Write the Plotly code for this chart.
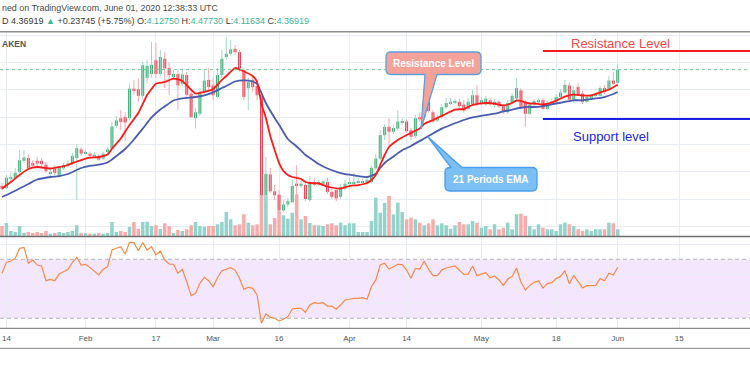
import plotly.graph_objects as go
import pandas as pd

# ---------------- data (LINK/USD daily, Kraken) ----------------
dates = pd.date_range("2020-01-13", "2020-06-01", freq="D")

opens = [2.24, 2.20, 2.37, 2.39, 2.49, 2.70, 2.75, 2.66, 2.70, 2.70,
         2.63, 2.46, 2.56, 2.42, 2.56, 2.60, 2.66, 2.75, 2.91, 2.84,
         2.83, 2.77, 2.79, 2.74, 2.86, 2.92, 3.34, 3.48, 3.50, 3.48,
         4.02, 4.01, 3.89, 4.22, 4.29, 4.54, 4.29, 4.57, 4.40, 4.23,
         4.29, 4.11, 4.27, 3.93, 3.48, 3.56, 3.96, 4.18, 4.08, 3.87,
         4.27, 4.60, 4.66, 4.75, 4.69, 4.36, 4.03, 4.18, 4.07, 3.90,
         2.07, 2.45, 2.14, 2.08, 1.79, 1.90, 1.94, 2.28, 2.25, 2.26,
         1.98, 2.31, 2.28, 2.29, 2.31, 2.13, 2.17, 2.04, 2.19, 2.28,
         2.29, 2.30, 2.30, 2.28, 2.31, 2.56, 2.74, 3.17, 3.32, 3.23,
         3.29, 3.40, 3.42, 3.26, 3.15, 3.50, 3.50, 3.78, 3.59, 3.44,
         3.50, 3.68, 3.75, 3.77, 3.78, 3.73, 3.65, 3.74, 3.90, 3.76,
         3.73, 3.81, 3.72, 3.78, 3.70, 3.59, 3.76, 3.84, 3.99, 3.78,
         3.56, 3.73, 3.77, 3.81, 3.65, 3.75, 3.78, 3.87, 3.95, 4.08,
         3.81, 4.05, 3.93, 3.78, 3.86, 3.89, 3.89, 4.03, 4.02, 4.17,
         4.1275]
highs = [2.29, 2.44, 2.49, 2.57, 2.90, 2.90, 2.81, 2.71, 2.77, 2.75,
         2.68, 2.57, 2.62, 2.60, 2.66, 2.71, 2.84, 3.01, 2.95, 2.90,
         2.87, 2.86, 2.82, 2.87, 2.95, 3.41, 3.52, 3.63, 3.59, 4.11,
         4.18, 4.21, 4.51, 4.55, 4.88, 4.86, 4.73, 4.69, 4.51, 4.36,
         4.36, 4.36, 4.33, 4.00, 3.67, 4.03, 4.36, 4.40, 4.22, 4.40,
         4.73, 4.97, 4.91, 4.82, 4.73, 4.40, 4.22, 4.25, 4.18, 3.96,
         2.77, 2.57, 2.26, 2.16, 1.98, 2.02, 2.35, 2.62, 2.39, 2.31,
         2.42, 2.39, 2.35, 2.36, 2.39, 2.20, 2.20, 2.28, 2.35, 2.39,
         2.48, 2.39, 2.37, 2.40, 2.62, 2.82, 3.26, 3.37, 3.48, 3.36,
         3.63, 3.48, 3.46, 3.30, 3.54, 3.59, 3.85, 3.85, 3.63, 3.54,
         3.74, 3.85, 3.85, 3.84, 3.84, 3.81, 3.85, 4.00, 4.09, 3.85,
         3.89, 3.85, 3.83, 3.81, 3.74, 3.81, 3.94, 4.21, 4.03, 3.81,
         3.78, 3.83, 3.85, 3.85, 3.80, 3.84, 3.92, 4.01, 4.18, 4.14,
         4.07, 4.12, 3.98, 3.91, 3.92, 3.94, 4.07, 4.09, 4.25, 4.33,
         4.4773]
lows = [2.16, 2.18, 2.33, 2.37, 2.48, 2.66, 2.53, 2.57, 2.60, 2.60,
        2.48, 2.42, 2.44, 2.40, 2.53, 2.59, 2.62, 1.98, 2.79, 2.81,
        2.75, 2.75, 2.70, 2.71, 2.84, 2.90, 3.30, 3.26, 3.06, 3.45,
        3.91, 3.78, 3.81, 4.11, 4.22, 4.22, 4.25, 4.03, 3.91, 4.18,
        3.63, 4.07, 3.87, 3.48, 3.29, 3.52, 3.91, 4.00, 3.81, 3.85,
        4.22, 4.55, 4.62, 4.64, 4.33, 3.81, 3.63, 3.96, 3.81, 2.04,
        1.89, 2.11, 1.98, 1.74, 1.76, 1.85, 1.93, 1.98, 2.20, 1.96,
        1.95, 2.23, 2.24, 2.26, 2.09, 2.00, 1.96, 2.00, 2.16, 2.24,
        2.28, 2.28, 2.28, 2.26, 2.29, 2.53, 2.71, 3.08, 2.99, 3.19,
        3.25, 3.36, 3.21, 3.08, 3.12, 3.43, 3.45, 3.58, 3.39, 3.41,
        3.47, 3.65, 3.72, 3.74, 3.67, 3.58, 3.63, 3.72, 3.70, 3.72,
        3.70, 3.70, 3.68, 3.67, 3.56, 3.56, 3.74, 3.81, 3.65, 3.32,
        3.54, 3.70, 3.74, 3.63, 3.63, 3.74, 3.76, 3.85, 3.92, 3.79,
        3.77, 3.89, 3.74, 3.76, 3.83, 3.87, 3.88, 3.92, 4.00, 4.09,
        4.11634]
closes = [2.19, 2.39, 2.40, 2.48, 2.71, 2.76, 2.56, 2.61, 2.65, 2.64,
          2.51, 2.49, 2.48, 2.57, 2.62, 2.65, 2.79, 2.93, 2.83, 2.86,
          2.79, 2.81, 2.72, 2.83, 2.91, 3.33, 3.44, 3.41, 3.40, 4.02,
          3.99, 3.89, 4.45, 4.44, 4.46, 4.29, 4.60, 4.39, 4.27, 4.29,
          4.08, 4.28, 3.91, 3.50, 3.59, 3.96, 4.17, 4.05, 3.90, 4.27,
          4.57, 4.66, 4.74, 4.69, 4.39, 3.87, 4.14, 4.05, 3.90, 2.07,
          2.46, 2.14, 2.07, 1.79, 1.90, 1.96, 2.24, 2.25, 2.28, 2.00,
          2.31, 2.26, 2.31, 2.32, 2.13, 2.04, 2.01, 2.22, 2.28, 2.31,
          2.31, 2.32, 2.32, 2.35, 2.57, 2.74, 3.17, 3.32, 3.23, 3.30,
          3.42, 3.42, 3.24, 3.14, 3.48, 3.46, 3.78, 3.61, 3.42, 3.48,
          3.68, 3.76, 3.78, 3.79, 3.70, 3.62, 3.78, 3.90, 3.75, 3.81,
          3.84, 3.75, 3.78, 3.70, 3.59, 3.76, 3.89, 4.03, 3.69, 3.56,
          3.73, 3.79, 3.81, 3.65, 3.75, 3.79, 3.87, 3.95, 4.09, 3.82,
          3.99, 3.91, 3.78, 3.87, 3.89, 3.90, 4.03, 3.96, 4.17, 4.11,
          4.36919]
volumes = [1000, 1300, 500, 400, 1000, 300, 400, 300, 400, 300,
           500, 230, 300, 400, 300, 400, 500, 1070, 300, 300,
           230, 230, 300, 230, 300, 1400, 400, 500, 400, 900,
           1400, 730, 1400, 1430, 1000, 1070, 700, 1270, 1000, 300,
           600, 500, 670, 1070, 1400, 1000, 930, 1000, 1000, 1170,
           1400, 2400, 1670, 1070, 1170, 2170, 1330, 1070, 1170, 4200,
           4070, 1170, 1800, 2500, 2070, 1730, 2330, 4170, 1670, 2000,
           1300, 1070, 1070, 1000, 1170, 1270, 1070, 1330, 1070, 1270,
           1270, 400, 400, 400, 1500, 3830, 2330, 3300, 4000, 2170,
           3330, 2400, 1670, 1830, 1670, 1330, 1070, 1270, 1670, 1070,
           1270, 1070, 730, 1070, 1400, 1170, 1170, 1500, 1330, 830,
           1000, 670, 1170, 670, 830, 1330, 670, 2170, 2230, 2000,
           1000, 670, 1170, 830, 670, 670, 500, 1170, 1330, 1170,
           1000, 670, 500, 670, 500, 670, 670, 670, 1330, 1270,
           670]
rsi = [60.5, 67.9, 68.8, 70.6, 77.4, 78.1, 67.3, 69.5, 66.1, 65.5,
       55.5, 56.4, 55.5, 60.0, 61.6, 63.2, 67.7, 71.3, 66.1, 66.6,
       64.5, 61.6, 59.4, 63.2, 65.0, 76.3, 77.4, 78.6, 73.6, 81.5,
       81.3, 75.8, 81.3, 76.3, 78.6, 72.9, 75.6, 69.5, 66.8, 66.6,
       60.5, 63.2, 54.8, 45.3, 46.9, 53.7, 57.8, 55.5, 51.4, 57.5,
       62.3, 63.2, 64.3, 62.7, 57.1, 49.6, 51.0, 50.3, 45.8, 26.6,
       32.9, 30.6, 30.0, 28.2, 29.3, 31.1, 36.3, 36.7, 36.7, 34.0,
       39.0, 40.6, 40.1, 40.6, 38.3, 38.3, 36.1, 39.0, 42.4, 42.9,
       43.5, 43.5, 44.0, 42.9, 51.4, 56.0, 66.1, 67.3, 63.4, 65.0,
       66.6, 66.4, 62.7, 57.1, 63.9, 63.4, 68.8, 63.2, 58.9, 58.9,
       62.7, 64.1, 65.0, 65.5, 62.7, 59.8, 60.0, 65.5, 58.9, 59.8,
       60.9, 57.5, 58.7, 56.0, 52.3, 56.6, 58.4, 64.1, 54.6, 49.2,
       52.3, 54.4, 55.3, 50.5, 53.5, 54.2, 56.9, 58.4, 62.3, 53.3,
       58.9, 55.0, 50.5, 52.1, 52.1, 52.3, 56.9, 55.5, 60.5, 59.4,
       64.5]

ema_fast_dates = ["2020-01-13", "2020-01-15", "2020-01-17", "2020-01-19", "2020-01-21", "2020-01-24",
                  "2020-01-26", "2020-01-28", "2020-01-30", "2020-01-31", "2020-02-02", "2020-02-04",
                  "2020-02-06", "2020-02-07", "2020-02-09", "2020-02-11", "2020-02-13", "2020-02-15",
                  "2020-02-16", "2020-02-17", "2020-02-19", "2020-02-21", "2020-02-23", "2020-02-26",
                  "2020-02-28", "2020-03-01", "2020-03-03", "2020-03-04", "2020-03-06", "2020-03-07",
                  "2020-03-10", "2020-03-11", "2020-03-12", "2020-03-13", "2020-03-14", "2020-03-15",
                  "2020-03-16", "2020-03-17", "2020-03-18", "2020-03-19", "2020-03-20", "2020-03-21",
                  "2020-03-22", "2020-03-23", "2020-03-25", "2020-03-27", "2020-03-30", "2020-04-01",
                  "2020-04-03", "2020-04-05", "2020-04-06", "2020-04-07", "2020-04-08", "2020-04-09",
                  "2020-04-10", "2020-04-12", "2020-04-14", "2020-04-17", "2020-04-18", "2020-04-20",
                  "2020-04-23", "2020-04-25", "2020-04-27", "2020-04-29", "2020-05-02", "2020-05-04",
                  "2020-05-06", "2020-05-08", "2020-05-09", "2020-05-10", "2020-05-11", "2020-05-12",
                  "2020-05-13", "2020-05-15", "2020-05-17", "2020-05-20", "2020-05-22", "2020-05-24",
                  "2020-05-26", "2020-05-28", "2020-05-30", "2020-06-01"]
ema_fast = [2.189, 2.311, 2.440, 2.549, 2.586, 2.559,
            2.586, 2.623, 2.687, 2.714, 2.756, 2.769,
            2.815, 2.921, 3.108, 3.355, 3.575, 3.905,
            4.015, 4.112, 4.143, 4.203, 4.161, 3.932,
            3.960, 4.015, 4.180, 4.253, 4.399, 4.372,
            4.253, 4.143, 3.740, 3.483, 3.154, 2.897,
            2.659, 2.513, 2.440, 2.403, 2.385, 2.366,
            2.311, 2.293, 2.284, 2.229, 2.192, 2.238,
            2.256, 2.293, 2.348, 2.440, 2.623, 2.806,
            2.952, 3.081, 3.172, 3.291, 3.374, 3.447,
            3.562, 3.639, 3.648, 3.722, 3.758, 3.745,
            3.713, 3.758, 3.804, 3.795, 3.768, 3.749,
            3.749, 3.731, 3.767, 3.877, 3.910, 3.896,
            3.899, 3.951, 4.006, 4.093]

ema_slow_dates = ["2020-01-13", "2020-01-15", "2020-01-17", "2020-01-19", "2020-01-21", "2020-01-24",
                  "2020-01-26", "2020-01-28", "2020-01-31", "2020-02-02", "2020-02-04", "2020-02-06",
                  "2020-02-07", "2020-02-08", "2020-02-10", "2020-02-12", "2020-02-14", "2020-02-16",
                  "2020-02-18", "2020-02-19", "2020-02-21", "2020-02-23", "2020-02-26", "2020-02-28",
                  "2020-03-01", "2020-03-03", "2020-03-04", "2020-03-06", "2020-03-08", "2020-03-10",
                  "2020-03-11", "2020-03-12", "2020-03-13", "2020-03-15", "2020-03-16", "2020-03-18",
                  "2020-03-20", "2020-03-22", "2020-03-23", "2020-03-24", "2020-03-25", "2020-03-27",
                  "2020-03-30", "2020-04-01", "2020-04-03", "2020-04-05", "2020-04-07", "2020-04-08",
                  "2020-04-09", "2020-04-11", "2020-04-13", "2020-04-15", "2020-04-18", "2020-04-20",
                  "2020-04-22", "2020-04-24", "2020-04-27", "2020-04-29", "2020-05-02", "2020-05-04",
                  "2020-05-06", "2020-05-08", "2020-05-11", "2020-05-13", "2020-05-15", "2020-05-18",
                  "2020-05-20", "2020-05-22", "2020-05-24", "2020-05-27", "2020-05-29", "2020-05-31",
                  "2020-06-01"]
ema_slow = [2.037, 2.110, 2.192, 2.275, 2.357, 2.403,
            2.421, 2.458, 2.568, 2.608, 2.628, 2.669,
            2.723, 2.788, 2.916, 3.090, 3.288, 3.493,
            3.639, 3.694, 3.804, 3.844, 3.868, 3.899,
            3.954, 4.033, 4.070, 4.152, 4.174, 4.152,
            4.106, 3.941, 3.758, 3.483, 3.360, 3.099,
            2.962, 2.806, 2.751, 2.696, 2.641, 2.559,
            2.476, 2.445, 2.421, 2.403, 2.463, 2.568,
            2.659, 2.778, 2.892, 2.971, 3.108, 3.200,
            3.288, 3.355, 3.447, 3.496, 3.538, 3.562,
            3.603, 3.639, 3.685, 3.685, 3.703, 3.749,
            3.777, 3.808, 3.808, 3.841, 3.868, 3.923,
            3.960]

last_price = 4.36919
resistance_level = 4.711
support_level = 3.465
level_start = "2020-05-15"

tick_dates = ["2020-01-14", "2020-02-01", "2020-02-17", "2020-03-01", "2020-03-16", "2020-04-01",
              "2020-04-14", "2020-05-01", "2020-05-18", "2020-06-01", "2020-06-15", "2020-07-01"]
tick_labels = ["14", "Feb", "17", "Mar", "16", "Apr", "14", "May", "18", "Jun", "15", "Jul"]

# ---------------- styling ----------------
W, H = 750, 375
FONT = "Liberation Sans, Arial, sans-serif"
UP_BODY, DN_BODY = "#43b07b", "#ee4356"
UP_WICK, DN_WICK = "#a3d8c2", "#f5a7ae"
UP_VOL, DN_VOL = "#93d3cb", "#f7abaa"
GRID = "#e7edf3"

def px_x(x):
    return x / W

def px_y(y):
    return 1 - y / H

up = [c >= o for o, c in zip(opens, closes)]

fig = go.Figure()

# volume (base subplot, drawn underneath)
fig.add_trace(go.Bar(x=dates, y=volumes, width=0.8 * 86400000,
                     marker=dict(color=[UP_VOL if u else DN_VOL for u in up], line_width=0),
                     xaxis="x", yaxis="y", hoverinfo="skip"))

# wicks
for flag, col in ((True, UP_WICK), (False, DN_WICK)):
    xs, ys = [], []
    for d, lo, hi, u in zip(dates, lows, highs, up):
        if u == flag:
            xs += [d, d, None]
            ys += [lo, hi, None]
    fig.add_trace(go.Scatter(x=xs, y=ys, mode="lines", line=dict(color=col, width=1),
                             xaxis="x", yaxis="y3", hoverinfo="skip"))

# bodies
fig.add_trace(go.Bar(x=dates, base=[min(o, c) for o, c in zip(opens, closes)],
                     y=[max(abs(c - o), 0.012) for o, c in zip(opens, closes)],
                     width=0.68 * 86400000,
                     marker=dict(color=[UP_BODY if u else DN_BODY for u in up], line_width=0),
                     xaxis="x", yaxis="y3", hoverinfo="skip"))

# EMAs
fig.add_trace(go.Scatter(x=ema_slow_dates, y=ema_slow, mode="lines",
                         line=dict(color="#4a5cae", width=1.8, shape="spline", smoothing=0.6),
                         xaxis="x", yaxis="y3"))
fig.add_trace(go.Scatter(x=ema_fast_dates, y=ema_fast, mode="lines",
                         line=dict(color="#ff1a1a", width=1.8, shape="spline", smoothing=0.6),
                         xaxis="x", yaxis="y3"))

# RSI
fig.add_trace(go.Scatter(x=dates, y=rsi, mode="lines", line=dict(color="#f58a48", width=1.2),
                         xaxis="x2", yaxis="y2"))

x_range = ["2020-01-12 13:05", "2020-07-01 02:00"]
main_dom = [px_y(236), px_y(32)]
rsi_dom = [px_y(328.3), px_y(237)]

fig.update_layout(
    width=W, height=H, margin=dict(l=0, r=0, t=0, b=0),
    paper_bgcolor="white", plot_bgcolor="rgba(0,0,0,0)",
    showlegend=False, barmode="overlay", font=dict(family=FONT),
    xaxis=dict(domain=[0, 1], range=x_range, type="date", anchor="y",
               tickvals=tick_dates, showticklabels=False, ticks="",
               showgrid=True, gridcolor=GRID, gridwidth=1, zeroline=False, showline=False),
    yaxis=dict(domain=main_dom, range=[0, 20400], visible=False, fixedrange=True),
    yaxis3=dict(overlaying="y", anchor="x", side="right", range=[1.3224, 5.0586],
                tick0=0, dtick=0.5, showgrid=True, gridcolor=GRID, gridwidth=1,
                showticklabels=False, ticks="", zeroline=False, showline=False),
    xaxis2=dict(domain=[0, 1], anchor="y2", matches="x", type="date",
                tickvals=tick_dates, ticktext=tick_labels, ticks="",
                ticklabelstandoff=4,
                tickfont=dict(size=8, color="#555555", family=FONT),
                showgrid=True, gridcolor=GRID, gridwidth=1, zeroline=False, showline=False),
    yaxis2=dict(domain=rsi_dom, anchor="x2", range=[23.22, 85.12],
                tickvals=[40, 60, 80], showgrid=True, gridcolor=GRID, gridwidth=1,
                showticklabels=False, ticks="", zeroline=False, showline=False),
)

shapes = []
# RSI band and bounds
shapes.append(dict(type="rect", xref="paper", x0=0, x1=1, yref="y2", y0=30, y1=70,
                   fillcolor="#f4e7fd", line_width=0, layer="below"))
for lvl in (70, 30):
    shapes.append(dict(type="line", xref="paper", x0=0, x1=1, yref="y2", y0=lvl, y1=lvl,
                       line=dict(color="#b5b5b5", width=1, dash="4px,3px")))
# last price dotted line
shapes.append(dict(type="line", xref="paper", x0=0, x1=1, yref="y3", y0=last_price, y1=last_price,
                   line=dict(color="#78c795", width=1, dash="dot")))
# resistance / support levels
shapes.append(dict(type="line", xref="x", x0=level_start, x1=x_range[1], yref="y3",
                   y0=resistance_level, y1=resistance_level, line=dict(color="#f21c1c", width=2.2)))
shapes.append(dict(type="line", xref="x", x0=level_start, x1=x_range[1], yref="y3",
                   y0=support_level, y1=support_level, line=dict(color="#1d1de8", width=2.2)))
# pane borders
for yy, col, wd in ((31.7, "#8f8f8f", 1.5), (236.6, "#707070", 1.5), (328.3, "#8a8a8a", 1.2), (348.3, "#9a9a9a", 1.2)):
    shapes.append(dict(type="line", xref="paper", yref="paper", x0=0, x1=1,
                       y0=px_y(yy), y1=px_y(yy), line=dict(color=col, width=wd)))

def path_from(cmds):
    out = []
    for c in cmds:
        if isinstance(c, str):
            out.append(c)
        else:
            out.append(f"{px_x(c[0]):.5f},{px_y(c[1]):.5f}")
    return " ".join(out)

# callout: Resistance Level (pink)
res_path = path_from(["M", (391, 52), "L", (476, 52), "Q", (481, 52), (481, 57), "L", (481, 69.5),
                      "Q", (481, 74.5), (476, 74.5), "L", (437, 74.5), "L", (421, 129), "L", (425, 74.5),
                      "L", (391, 74.5), "Q", (386, 74.5), (386, 69.5), "L", (386, 57),
                      "Q", (386, 52), (391, 52), "Z"])
shapes.append(dict(type="path", xref="paper", yref="paper", path=res_path,
                   fillcolor="#f5a29b", line=dict(color="#5f9fdc", width=1.3)))
# callout: 21 Periods EMA (blue)
ema_path = path_from(["M", (445, 172.5), "Q", (445, 167.5), (450, 167.5), "L", (451, 167.5),
                      "L", (428, 137), "L", (462, 167.5), "L", (532, 167.5),
                      "Q", (537, 167.5), (537, 172.5), "L", (537, 186), "Q", (537, 191), (532, 191),
                      "L", (450, 191), "Q", (445, 191), (445, 186), "Z"])
shapes.append(dict(type="path", xref="paper", yref="paper", path=ema_path,
                   fillcolor="#7cbff4", line=dict(color="#4b9ded", width=1.3)))
fig.update_layout(shapes=shapes)

TEAL = "#3fb39a"
ann = []
ann.append(dict(x=0, y=px_y(7.5), xref="paper", yref="paper", xanchor="left", yanchor="middle",
                text="ned on TradingView.com, June 01, 2020 12:38:33 UTC", showarrow=False,
                font=dict(size=8.9, color="#4a4a4a", family=FONT)))
line2 = (f"D 4.36919 <span style='color:{TEAL}'>▲</span> +0.23745 (+5.75%) "
         f"O:<span style='color:{TEAL}'>4.12750</span> H:<span style='color:{TEAL}'>4.47730</span> "
         f"L:<span style='color:{TEAL}'>4.11634</span> C:<span style='color:{TEAL}'>4.36919</span>")
ann.append(dict(x=0, y=px_y(21), xref="paper", yref="paper", xanchor="left", yanchor="middle",
                text=line2, showarrow=False, font=dict(size=9.0, color="#3a3a3a", family=FONT)))
ann.append(dict(x=0, y=px_y(43.5), xref="paper", yref="paper", xanchor="left", yanchor="middle",
                text="<b>AKEN</b>", showarrow=False, font=dict(size=8.5, color="#555555", family=FONT)))
ann.append(dict(x=px_x(620), y=px_y(43.3), xref="paper", yref="paper", xanchor="center", yanchor="middle",
                text="Resistance Level", showarrow=False, font=dict(size=13, color="#f04a4a", family=FONT)))
ann.append(dict(x=px_x(610.5), y=px_y(136.7), xref="paper", yref="paper", xanchor="center", yanchor="middle",
                text="Support level", showarrow=False, font=dict(size=13, color="#2424e0", family=FONT)))
ann.append(dict(x=px_x(433.5), y=px_y(63.3), xref="paper", yref="paper", xanchor="center", yanchor="middle",
                text="<b>Resistance Level</b>", showarrow=False, font=dict(size=10, color="white", family=FONT)))
ann.append(dict(x=px_x(491), y=px_y(179.3), xref="paper", yref="paper", xanchor="center", yanchor="middle",
                text="<b>21 Periods EMA</b>", showarrow=False, font=dict(size=10, color="white", family=FONT)))
fig.update_layout(annotations=ann)

fig.write_html("out.html",
               config={"displayModeBar": False},
               post_script="document.body.style.margin='0';document.body.style.overflow='hidden';")
